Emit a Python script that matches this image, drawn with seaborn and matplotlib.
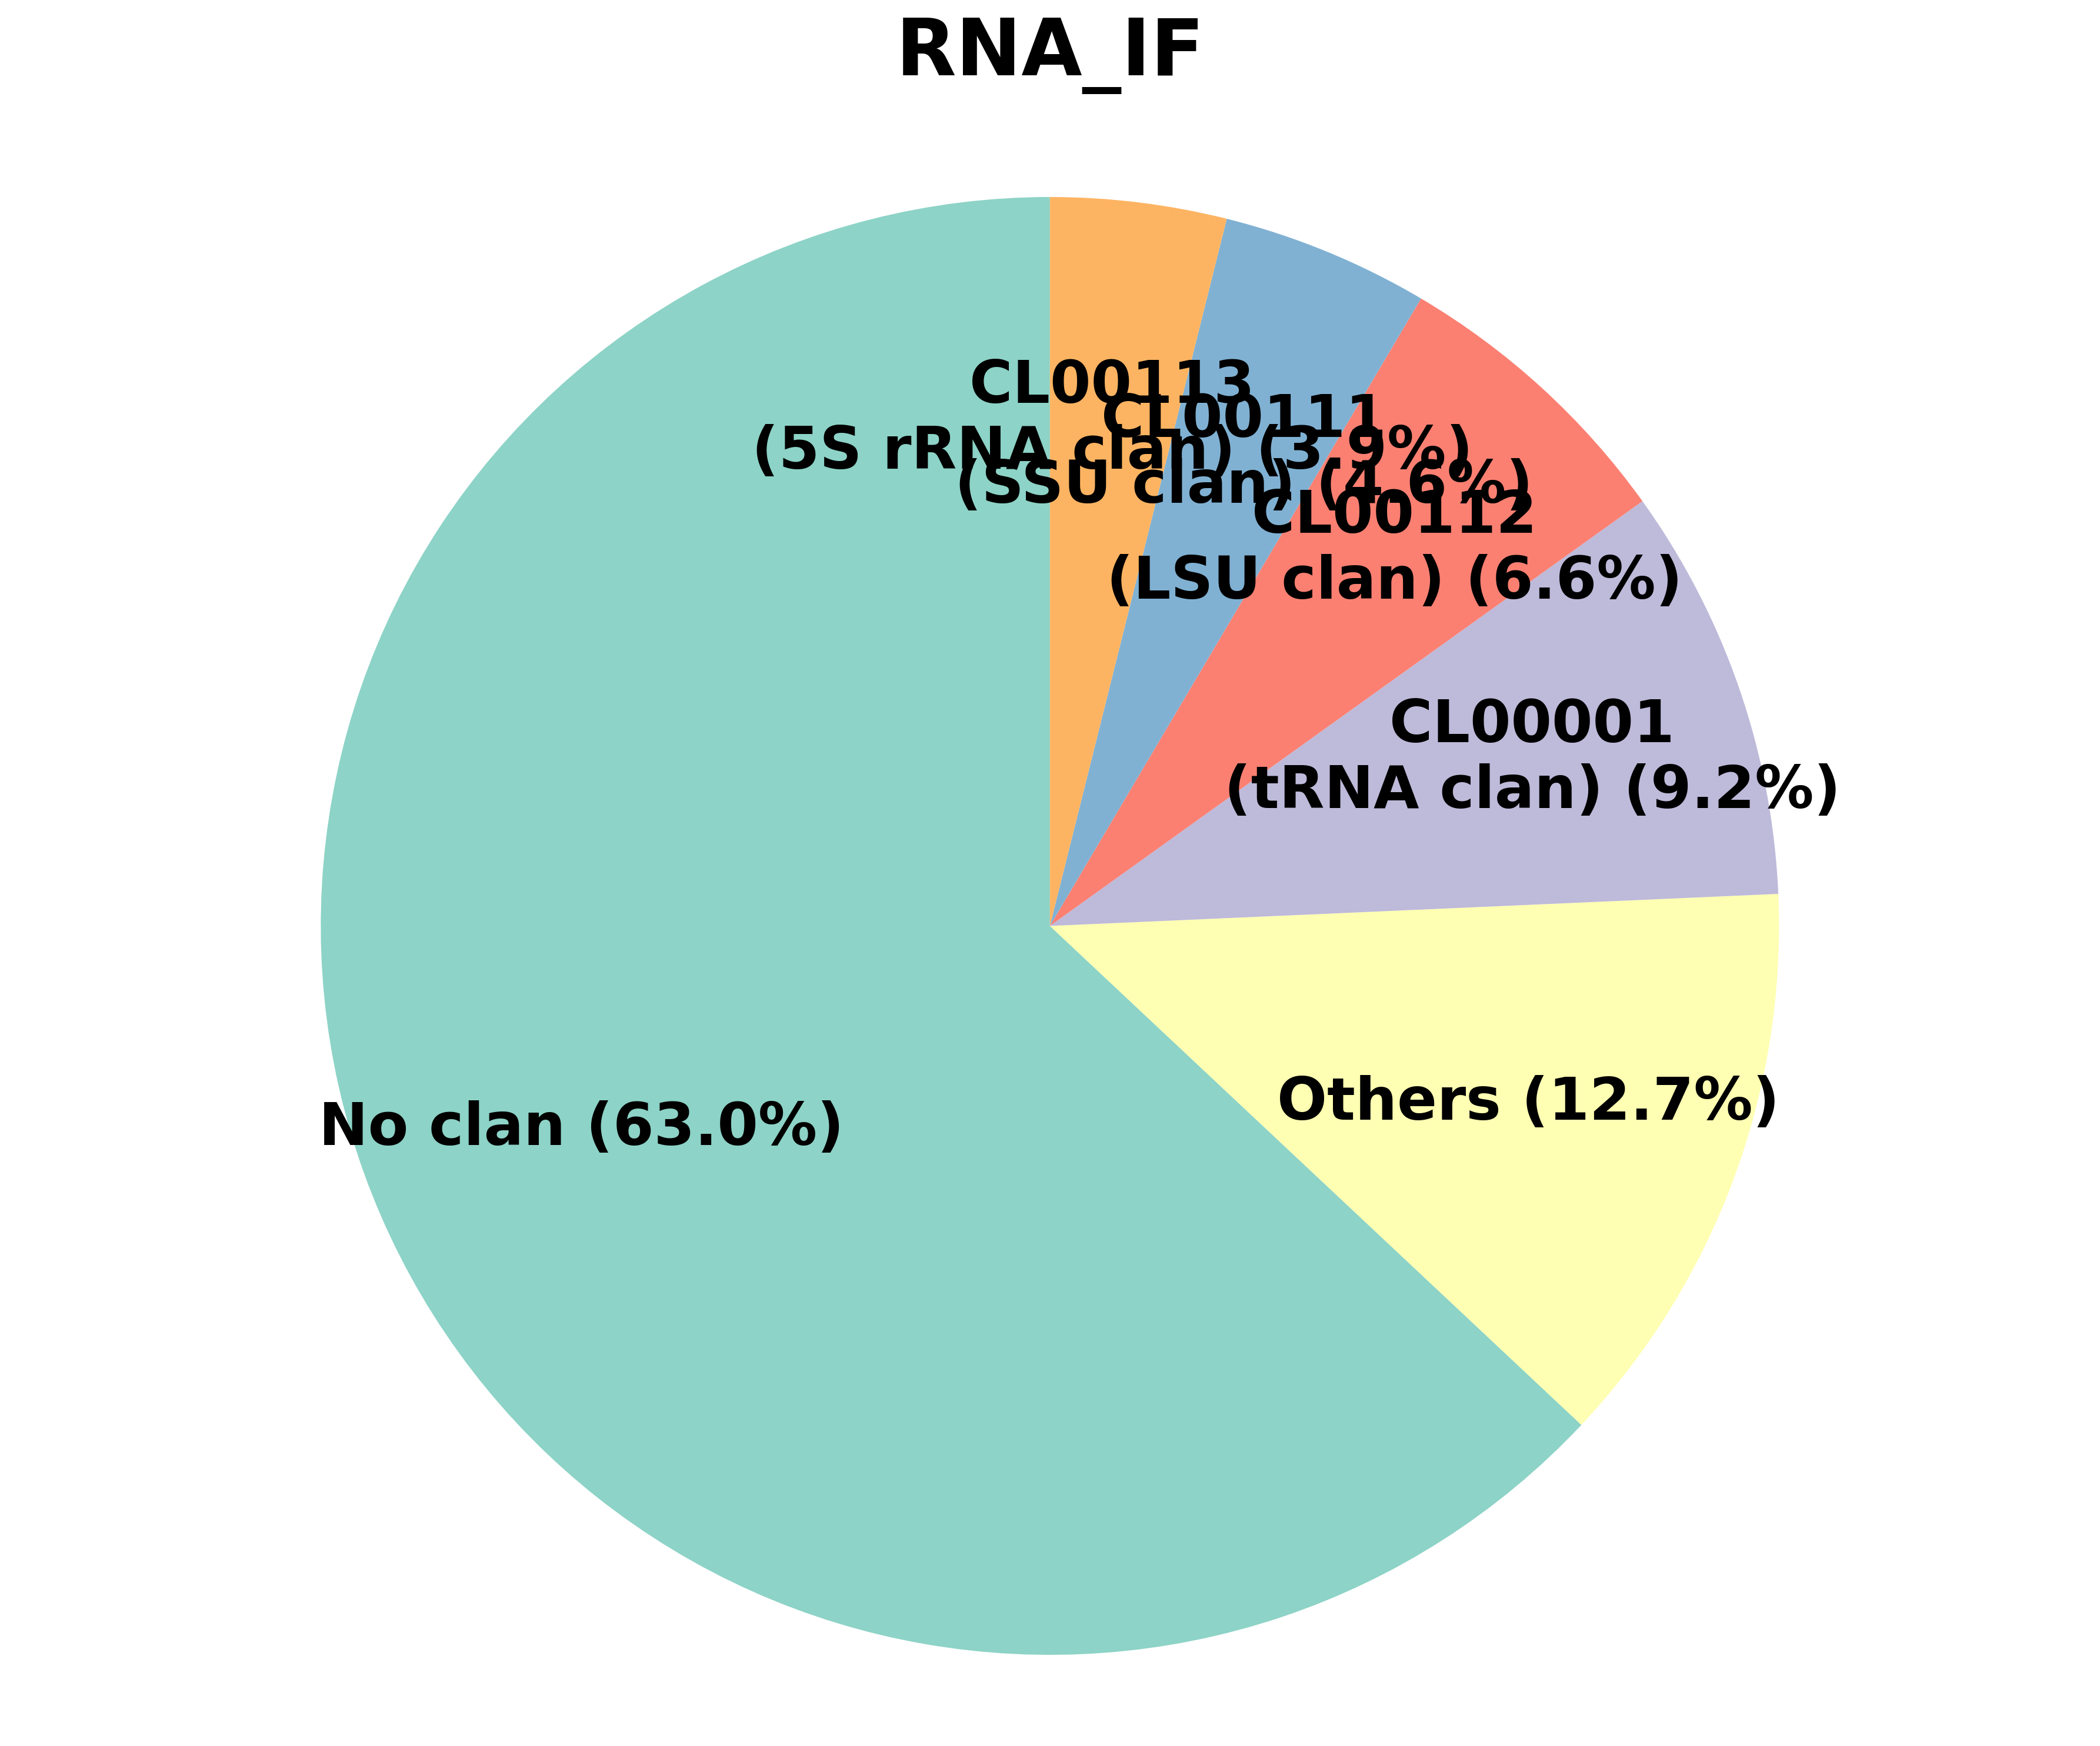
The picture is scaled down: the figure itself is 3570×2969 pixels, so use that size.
import matplotlib
matplotlib.use("Agg")
import matplotlib.pyplot as plt
import seaborn as sns

sns.set_theme(style="white")
plt.rcParams['font.family'] = ['DejaVu Sans']
plt.rcParams['text.color'] = 'black'

title = "RNA_IF"
categories = [
    "No clan",
    "Others",
    "CL00001\n(tRNA clan)",
    "CL00112\n(LSU clan)",
    "CL00111\n(SSU clan)",
    "CL00113\n(5S rRNA clan)",
]
percentages = [63.0, 12.7, 9.2, 6.6, 4.6, 3.9]

colors = sns.color_palette("Set3", len(categories))
labels = [f"{c} ({p:.1f}%)" for c, p in zip(categories, percentages)]

fig = plt.figure(figsize=(3570 / 300, 2969 / 300), dpi=300)
ax = fig.add_axes([0.15275, 0.05221, 0.69440, 0.83496])

wedges, texts = ax.pie(
    percentages,
    labels=labels,
    colors=colors,
    startangle=90,
    counterclock=True,
    labeldistance=0.7,
    wedgeprops=dict(linewidth=0, edgecolor="none"),
    textprops=dict(fontsize=24, fontweight="bold", color="black"),
)
for t in texts:
    t.set_ha("center")
    t.set_va("center")

ax.set_xlim(-1, 1)
ax.set_ylim(-1, 1)
ax.set_aspect("equal")
ax.axis("off")

fig.text(0.49995, 0.95689, title, ha="center", va="baseline",
         fontsize=32, fontweight="bold", color="black")

fig.savefig("out.png", dpi=300)
